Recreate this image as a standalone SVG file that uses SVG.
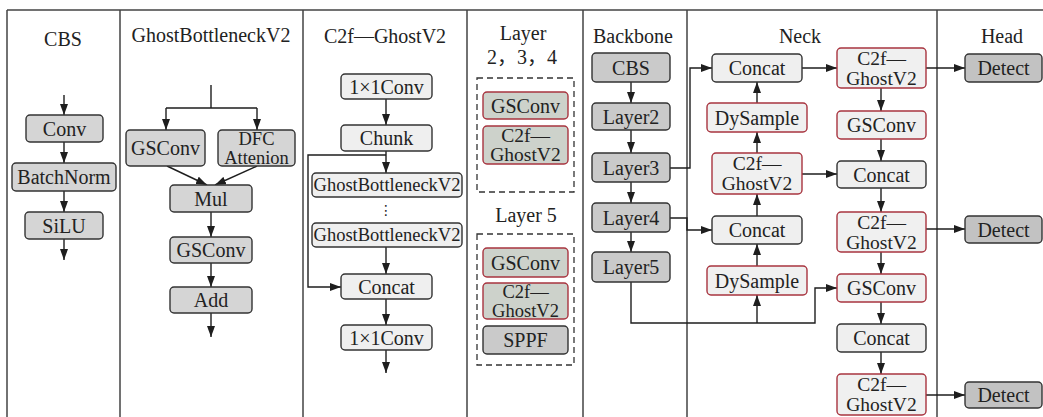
<svg xmlns="http://www.w3.org/2000/svg" width="1043" height="417" viewBox="0 0 1043 417">
<defs>
<marker id="ah" viewBox="0 0 11 8" refX="11" refY="4" markerWidth="11" markerHeight="8" markerUnits="userSpaceOnUse" orient="auto"><path d="M0,0 L11,4 L0,8 z" fill="#1e1e1e"/></marker>
</defs>
<style>
text{font-family:"Liberation Serif","Times New Roman",serif;fill:#222;}
.t{font-size:20px;text-anchor:middle;}
.l{font-size:20px;text-anchor:middle;dominant-baseline:central;}
.s{font-size:18.5px;}
.m{font-size:19.5px;}
.gb{font-size:18.5px;}
rect{stroke-width:1.4;}
.g{fill:#d5d5d5;stroke:#333;}
.w{fill:#efefef;stroke:#333;}
.r{fill:#f0f0f0;stroke:#a8343f;}
.gr{fill:#cdd2cb;stroke:#a8343f;}
.b{fill:#cacaca;stroke:#333;}
.d{fill:#c2c2c2;stroke:#333;}
.frame{fill:none;stroke:#444;stroke-width:1.5;}
.dash{fill:none;stroke:#333;stroke-width:1.3;stroke-dasharray:6,4;}
#connectors path{fill:none;stroke:#1e1e1e;stroke-width:1.4;}
</style>
<rect x="0" y="0" width="1043" height="417" fill="#ffffff"/>
<g id="frame" class="frame">
<path d="M7,10 H1043 M7,10 V417 M120,10 V417 M303,10 V417 M467,10 V417 M583,10 V417 M687,10 V417 M937,10 V417"/>
</g>
<g id="titles">
<text class="t" x="63" y="46">CBS</text>
<text class="t" x="211" y="42">GhostBottleneckV2</text>
<text class="t" x="385" y="43">C2f—GhostV2</text>
<text class="t" x="523" y="40">Layer</text>
<text class="t" x="522" y="64">2<tspan font-family="'Noto Sans CJK SC',sans-serif">，</tspan>3<tspan font-family="'Noto Sans CJK SC',sans-serif">，</tspan>4</text>
<text class="t" x="526" y="222">Layer 5</text>
<text class="t" x="633" y="43">Backbone</text>
<text class="t" x="800" y="43">Neck</text>
<text class="t" x="1002" y="43">Head</text>
</g>
<g id="dashed">
<rect class="dash" x="477" y="78" width="97" height="114"/>
<rect class="dash" x="477" y="234" width="97" height="131"/>
</g>
<g id="connectors">
<path d="M64,95 V115" marker-end="url(#ah)"/>
<path d="M64,142 V163" marker-end="url(#ah)"/>
<path d="M64,191 V212" marker-end="url(#ah)"/>
<path d="M64,239 V260" marker-end="url(#ah)"/>
<path d="M211,85 V108 M166,108 H257"/>
<path d="M166,108 V130" marker-end="url(#ah)"/>
<path d="M257,108 V130" marker-end="url(#ah)"/>
<path d="M167,166 L207,185" marker-end="url(#ah)"/>
<path d="M257,166 L215,185" marker-end="url(#ah)"/>
<path d="M211,212 V237" marker-end="url(#ah)"/>
<path d="M211,263 V287" marker-end="url(#ah)"/>
<path d="M211,313 V337" marker-end="url(#ah)"/>
<path d="M386,99 V125" marker-end="url(#ah)"/>
<path d="M386,151 V173" marker-end="url(#ah)"/>
<path d="M386,247 V274" marker-end="url(#ah)"/>
<path d="M386,299 V325" marker-end="url(#ah)"/>
<path d="M386,350 V373" marker-end="url(#ah)"/>
<path d="M386,155 H308 V287 H341" marker-end="url(#ah)"/>
<path d="M631,82 V103" marker-end="url(#ah)"/>
<path d="M631,130 V153" marker-end="url(#ah)"/>
<path d="M631,182 V203" marker-end="url(#ah)"/>
<path d="M631,232 V252" marker-end="url(#ah)"/>
<path d="M670,168 H690 V68 H712" marker-end="url(#ah)"/>
<path d="M670,218 H687 V230 H712" marker-end="url(#ah)"/>
<path d="M631,282 V323 H815 V288 H837" marker-end="url(#ah)"/>
<path d="M757,323 V295" marker-end="url(#ah)"/>
<path d="M757,266 V244" marker-end="url(#ah)"/>
<path d="M757,216 V194" marker-end="url(#ah)"/>
<path d="M757,153 V132" marker-end="url(#ah)"/>
<path d="M757,103 V82" marker-end="url(#ah)"/>
<path d="M802,68 H837" marker-end="url(#ah)"/>
<path d="M926,68 H965" marker-end="url(#ah)"/>
<path d="M802,174 H837" marker-end="url(#ah)"/>
<path d="M881,88 V111" marker-end="url(#ah)"/>
<path d="M881,139 V161" marker-end="url(#ah)"/>
<path d="M881,188 V212" marker-end="url(#ah)"/>
<path d="M881,252 V274" marker-end="url(#ah)"/>
<path d="M881,302 V324" marker-end="url(#ah)"/>
<path d="M881,352 V374" marker-end="url(#ah)"/>
<path d="M926,229 H965" marker-end="url(#ah)"/>
<path d="M926,395 H965" marker-end="url(#ah)"/>
</g>
<g id="cbs-conv"><rect class="g" x="26" y="115" width="77" height="27" rx="4"/><text class="l" x="64.5" y="128.5">Conv</text></g>
<g id="cbs-bn"><rect class="g" x="12" y="163" width="104" height="28" rx="4"/><text class="l" x="64" y="177">BatchNorm</text></g>
<g id="cbs-silu"><rect class="g" x="25" y="212" width="78" height="27" rx="4"/><text class="l" x="64" y="225.5">SiLU</text></g>
<g id="gb-gsconv"><rect class="g" x="126" y="130" width="79" height="36" rx="4"/><text class="l" x="165.5" y="148">GSConv</text></g>
<g id="gb-dfc"><rect class="g" x="218" y="130" width="77" height="36" rx="4"/><text class="l s" x="256.5" y="139">DFC</text><text class="l s" x="256.5" y="157.5">Attenion</text></g>
<g id="gb-mul"><rect class="g" x="170" y="185" width="82" height="27" rx="4"/><text class="l" x="211" y="198.5">Mul</text></g>
<g id="gb-gsconv2"><rect class="g" x="170" y="237" width="82" height="26" rx="4"/><text class="l" x="211" y="250">GSConv</text></g>
<g id="gb-add"><rect class="g" x="170" y="287" width="82" height="26" rx="4"/><text class="l" x="211" y="300">Add</text></g>
<g id="c2f-conv1"><rect class="w" x="341" y="74" width="91" height="25" rx="4"/><text class="l" x="386.5" y="86.5">1×1Conv</text></g>
<g id="c2f-chunk"><rect class="w" x="341" y="125" width="91" height="26" rx="4"/><text class="l" x="386.5" y="138">Chunk</text></g>
<g id="c2f-gb1"><rect class="w" x="312" y="173" width="150" height="24" rx="4"/><text class="l gb" x="387" y="185">GhostBottleneckV2</text></g>
<g id="c2f-dots"><text class="l" x="386" y="210" style="font-family:'DejaVu Sans',sans-serif;font-size:14px">⋮</text></g>
<g id="c2f-gb2"><rect class="w" x="312" y="223" width="150" height="24" rx="4"/><text class="l gb" x="387" y="235">GhostBottleneckV2</text></g>
<g id="c2f-concat"><rect class="w" x="341" y="274" width="91" height="25" rx="4"/><text class="l" x="386.5" y="286.5">Concat</text></g>
<g id="c2f-conv2"><rect class="w" x="341" y="325" width="91" height="25" rx="4"/><text class="l" x="386.5" y="337.5">1×1Conv</text></g>
<g id="l234-gsconv"><rect class="gr" x="483" y="92" width="85" height="27" rx="4"/><text class="l" x="525.5" y="105.5">GSConv</text></g>
<g id="l234-c2f"><rect class="gr" x="483" y="126" width="85" height="38" rx="4"/><text class="l m" x="525.5" y="135.5">C2f—</text><text class="l m" x="525.5" y="154.5">GhostV2</text></g>
<g id="l5-gsconv"><rect class="gr" x="483" y="248" width="85" height="29" rx="4"/><text class="l" x="525.5" y="262.5">GSConv</text></g>
<g id="l5-c2f"><rect class="gr" x="483" y="283" width="85" height="36" rx="4"/><text class="l s" x="525.5" y="292">C2f—</text><text class="l s" x="525.5" y="310.5">GhostV2</text></g>
<g id="l5-sppf"><rect class="b" x="483" y="326" width="85" height="28" rx="4"/><text class="l" x="525.5" y="340">SPPF</text></g>
<g id="bb-cbs"><rect class="b" x="592" y="53" width="78" height="29" rx="4"/><text class="l" x="631" y="67.5">CBS</text></g>
<g id="bb-layer2"><rect class="b" x="592" y="103" width="78" height="27" rx="4"/><text class="l" x="631" y="116.5">Layer2</text></g>
<g id="bb-layer3"><rect class="b" x="592" y="153" width="78" height="29" rx="4"/><text class="l" x="631" y="167.5">Layer3</text></g>
<g id="bb-layer4"><rect class="b" x="592" y="203" width="78" height="29" rx="4"/><text class="l" x="631" y="217.5">Layer4</text></g>
<g id="bb-layer5"><rect class="b" x="592" y="252" width="78" height="30" rx="4"/><text class="l" x="631" y="267">Layer5</text></g>
<g id="nk-concat1"><rect class="w" x="712" y="54" width="90" height="28" rx="4"/><text class="l" x="757" y="68">Concat</text></g>
<g id="nk-dys1"><rect class="r" x="707" y="103" width="100" height="29" rx="4"/><text class="l" x="757" y="117.5">DySample</text></g>
<g id="nk-c2fl"><rect class="r" x="712" y="153" width="90" height="41" rx="4"/><text class="l m" x="757" y="163.5">C2f—</text><text class="l m" x="757" y="183.5">GhostV2</text></g>
<g id="nk-concat2"><rect class="w" x="712" y="216" width="90" height="28" rx="4"/><text class="l" x="757" y="230">Concat</text></g>
<g id="nk-dys2"><rect class="r" x="707" y="266" width="100" height="29" rx="4"/><text class="l" x="757" y="280.5">DySample</text></g>
<g id="nk-c2fr1"><rect class="r" x="837" y="48" width="89" height="40" rx="4"/><text class="l m" x="881.5" y="58">C2f—</text><text class="l m" x="881.5" y="78">GhostV2</text></g>
<g id="nk-gsconv1"><rect class="r" x="837" y="111" width="89" height="28" rx="4"/><text class="l" x="881.5" y="125">GSConv</text></g>
<g id="nk-concat3"><rect class="w" x="837" y="161" width="89" height="27" rx="4"/><text class="l" x="881.5" y="174.5">Concat</text></g>
<g id="nk-c2fr2"><rect class="r" x="837" y="212" width="89" height="40" rx="4"/><text class="l m" x="881.5" y="222">C2f—</text><text class="l m" x="881.5" y="242">GhostV2</text></g>
<g id="nk-gsconv2"><rect class="r" x="837" y="274" width="89" height="28" rx="4"/><text class="l" x="881.5" y="288">GSConv</text></g>
<g id="nk-concat4"><rect class="w" x="837" y="324" width="89" height="28" rx="4"/><text class="l" x="881.5" y="338">Concat</text></g>
<g id="nk-c2fr3"><rect class="r" x="837" y="374" width="89" height="41" rx="4"/><text class="l m" x="881.5" y="384.5">C2f—</text><text class="l m" x="881.5" y="404.5">GhostV2</text></g>
<g id="hd-detect1"><rect class="d" x="965" y="54" width="77" height="28" rx="4"/><text class="l" x="1003.5" y="68">Detect</text></g>
<g id="hd-detect2"><rect class="d" x="965" y="216" width="77" height="27" rx="4"/><text class="l" x="1003.5" y="229.5">Detect</text></g>
<g id="hd-detect3"><rect class="d" x="965" y="382" width="77" height="26" rx="4"/><text class="l" x="1003.5" y="395">Detect</text></g>
</svg>
